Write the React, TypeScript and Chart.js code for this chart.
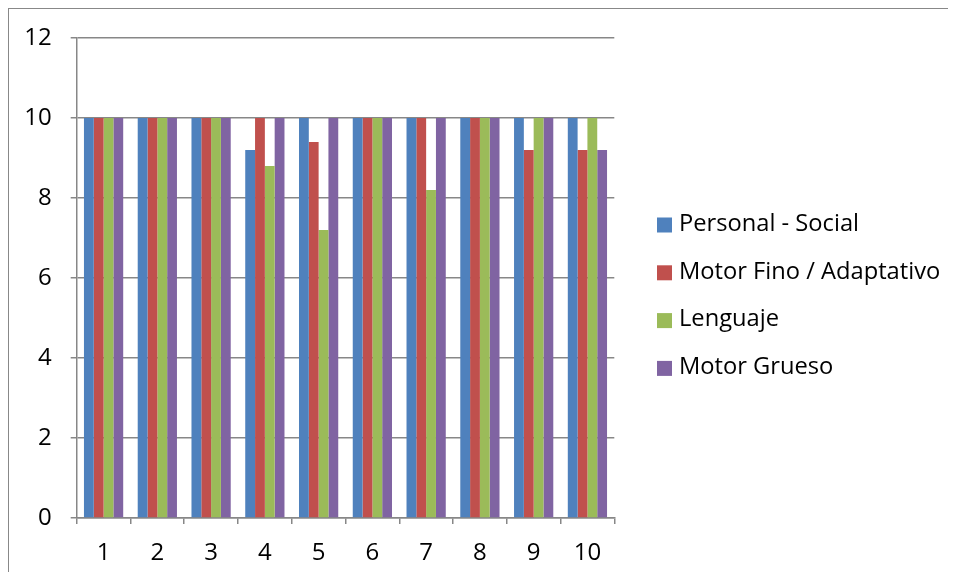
import React, { useEffect, useRef } from "react";
import { Chart, registerables } from "chart.js";

Chart.register(...registerables);

const categories = ["1", "2", "3", "4", "5", "6", "7", "8", "9", "10"];
const personalSocial = [10, 10, 10, 9.2, 10, 10, 10, 10, 10, 10];
const motorFino = [10, 10, 10, 10, 9.4, 10, 10, 10, 9.2, 9.2];
const lenguaje = [10, 10, 10, 8.8, 7.2, 10, 8.2, 10, 10, 10];
const motorGrueso = [10, 10, 10, 10, 10, 10, 10, 10, 10, 9.2];
const seriesNames = ["Personal - Social", "Motor Fino / Adaptativo", "Lenguaje", "Motor Grueso"];
const seriesColors = ["#4F81BD", "#C0504D", "#9BBB59", "#8064A2"];

const FONT = "'Open Sans', 'Liberation Sans', sans-serif";
const GRID = "#878787";

const legendPlugin = {
  id: "sideLegend",
  afterDraw(chart: any) {
    const ctx = chart.ctx;
    ctx.save();
    ctx.font = `23.7px ${FONT}`;
    ctx.textBaseline = "middle";
    ctx.textAlign = "left";
    chart.data.datasets.forEach((ds: any, i: number) => {
      const cy = 216 + i * 47.8;
      ctx.fillStyle = ds.backgroundColor;
      ctx.fillRect(648, cy - 7.5, 15, 15);
      ctx.fillStyle = "#000";
      ctx.fillText(ds.label, 670, cy - 1);
    });
    ctx.restore();
  },
};

export default function App() {
  const ref = useRef<HTMLCanvasElement | null>(null);
  useEffect(() => {
    if (!ref.current) return;
    const values = [personalSocial, motorFino, lenguaje, motorGrueso];
    const chart = new Chart(ref.current, {
      type: "bar",
      data: {
        labels: categories,
        datasets: values.map((v, i) => ({
          label: seriesNames[i],
          data: v,
          backgroundColor: seriesColors[i],
          borderWidth: 0,
          categoryPercentage: 0.73,
          barPercentage: 1,
        })),
      },
      plugins: [legendPlugin],
      options: {
        animation: false,
        responsive: false,
        maintainAspectRatio: false,
        layout: { padding: { top: 29, right: 341.7, bottom: 0, left: 0 } },
        plugins: { legend: { display: false }, tooltip: { enabled: false } },
        scales: {
          x: {
            grid: {
              display: true,
              drawOnChartArea: false,
              drawTicks: true,
              tickLength: 6,
              color: GRID,
              lineWidth: 1.5,
            },
            border: { display: true, color: GRID, width: 1.5 },
            ticks: { color: "#000", font: { size: 24, family: FONT }, padding: 15, maxRotation: 0 },
            afterFit(scale: any) {
              scale.height = 54;
            },
          },
          y: {
            min: 0,
            max: 12,
            ticks: {
              stepSize: 2,
              color: "#000",
              font: { size: 24, family: FONT, lineHeight: 0.8 },
              padding: 19,
            },
            grid: { color: GRID, lineWidth: 1.5, tickLength: 6 },
            border: { display: true, color: GRID, width: 1.5 },
            afterFit(scale: any) {
              scale.width = 67.7;
            },
          },
        },
      },
    });
    return () => chart.destroy();
  }, []);
  return (
    <div
      style={{
        width: 947,
        height: 563,
        borderTop: "1px solid #888",
        borderLeft: "1px solid #888",
      }}
    >
      <canvas ref={ref} width={947} height={563} style={{ display: "block" }} />
    </div>
  );
}
